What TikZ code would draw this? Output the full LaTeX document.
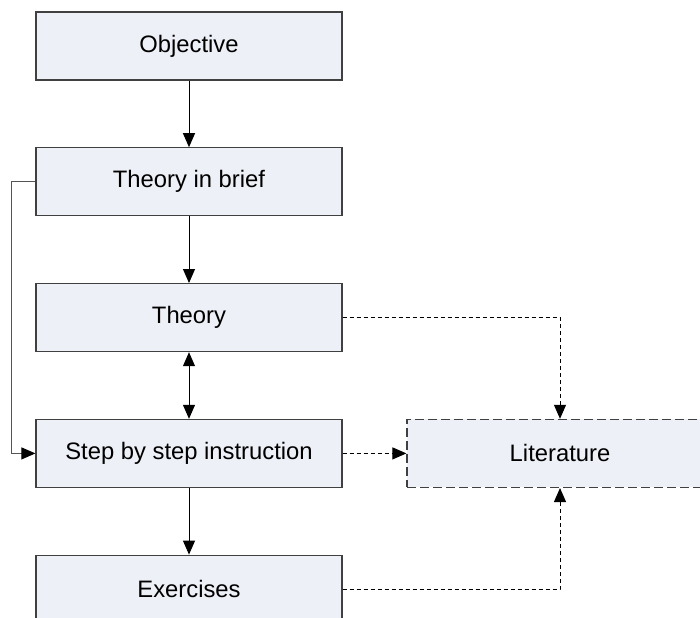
\documentclass[tikz,border=0pt]{standalone}
\usepackage{fontspec}
\setmainfont{Liberation Sans}
\usetikzlibrary{arrows.meta}

\definecolor{boxfill}{RGB}{237,240,246}
\definecolor{boxline}{RGB}{64,64,64}
\definecolor{wireline}{RGB}{85,85,85}

\tikzset{
	flowpicture/.style = {
		node distance = 67.9pt,
		font = \fontsize{11.9pt}{14pt}\selectfont,
		>={Triangle[length=7pt, width=6pt]},
		arrow/.style = {
			draw,
			->,
			line width = 0.5pt,
		}
	},
	flownode/.style = {
		rectangle,
		draw = boxline,
		fill = boxfill,
		line width = 0.6pt,
		minimum width = 153pt,
		minimum height = 34pt
	},
	litnode/.style = {
		dash pattern = on 4.5pt off 2pt
	},
	lit-arrow/.style = {
		dash pattern = on 2pt off 1.5pt
	},
	wire-arrow/.style = {
		draw = wireline,
		-{Triangle[length=7pt, width=6pt, color=black]}
	}
}

\begin{document}
\begin{tikzpicture}[flowpicture]
	\clip (-94.5pt,23pt) rectangle (255.5pt,-285.5pt);

	\node[flownode] (O) {Objective};
	\node[flownode, below of = O] (TB) {Theory in brief};
	\node[flownode, below of = TB] (T) {Theory};
	\node[flownode, below of = T] (S) {Step by step instruction};
	\node[flownode, below of = S] (E) {Exercises};
	\node[flownode, litnode, right of = S, node distance = 185.5pt] (L) {Literature};

	\begin{scope}[every path/.style = arrow]
		\path (O) to (TB);
		\path (TB) to (T);
		\path[<->] (T) to (S);
		\path (S) to (E);
		\path[wire-arrow] (TB.west) -- ++(-12pt,0) |- (S.west);
	\end{scope}

	\begin{scope}[every path/.style = arrow, lit-arrow]
		\path (T) -| (L);
		\path (S) -- (L);
		\path (E) -| (L);
	\end{scope}
\end{tikzpicture}
\end{document}
